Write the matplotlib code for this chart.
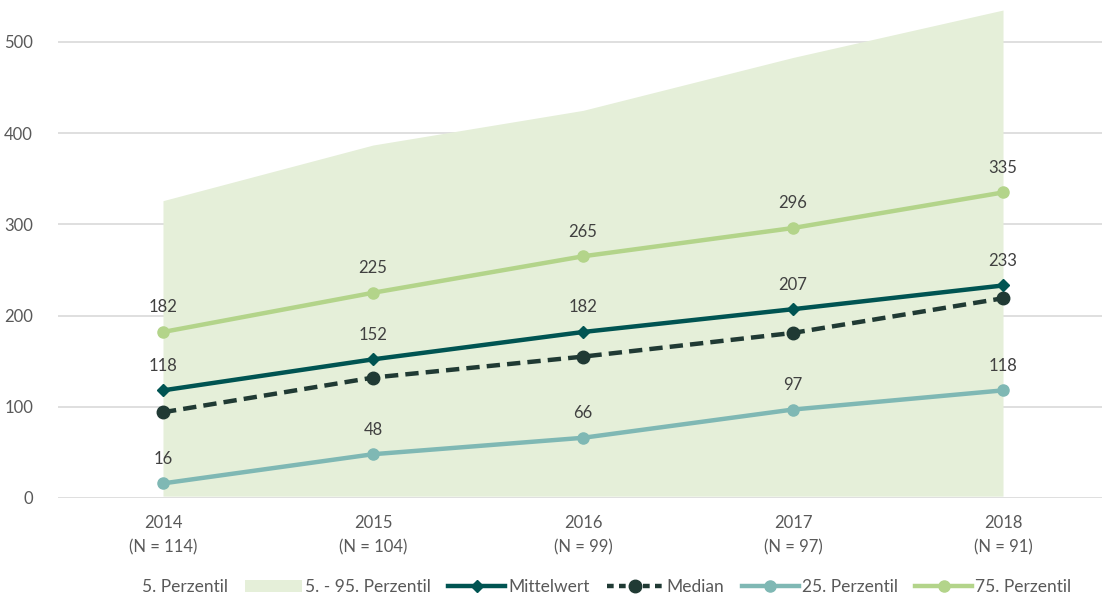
import matplotlib
matplotlib.use("Agg")
import matplotlib.pyplot as plt
from matplotlib.patches import Patch
from matplotlib.lines import Line2D

plt.rcParams['font.family'] = ['Lato', 'DejaVu Sans']

years = ["2014", "2015", "2016", "2017", "2018"]
n_counts = [114, 104, 99, 97, 91]
p05 = [2, 2, 2, 2, 2]
p95 = [326, 387, 425, 483, 535]
mean = [118, 152, 182, 207, 233]
median = [94, 132, 155, 181, 219]
p25 = [16, 48, 66, 97, 118]
p75 = [182, 225, 265, 296, 335]

c_band = "#E5EFD9"
c_mean = "#005452"
c_median = "#203A34"
c_p25 = "#7FB8B4"
c_p75 = "#B3D48A"
c_text = "#595959"
c_label = "#404040"
c_grid = "#D9D9D9"

fig = plt.figure(figsize=(11.02, 5.99), dpi=100)
ax = fig.add_axes([58 / 1102, 1 - 498 / 599, 1050 / 1102, 498 / 599])

x = list(range(len(years)))

ax.fill_between(x, p05, p95, color=c_band, lw=0, zorder=1)

ax.plot(x, p75, color=c_p75, lw=3.2, marker='o', ms=8, zorder=3)
ax.plot(x, p25, color=c_p25, lw=3.2, marker='o', ms=8, zorder=3)
ax.plot(x, median, color=c_median, lw=3.2, ls=(0, (3, 1.6)), marker='o', ms=9, zorder=4)
ax.plot(x, mean, color=c_mean, lw=3.2, marker='D', ms=6.5, zorder=5)

for series in (p75, mean, p25):
    for xi, v in zip(x, series):
        ax.annotate(str(v), (xi, v), xytext=(0, 12), textcoords='offset points',
                    ha='center', va='bottom', fontsize=12, color=c_label)

ax.set_xlim(-0.5, 4.5)
ax.set_ylim(0, 546)
ax.set_yticks([0, 100, 200, 300, 400, 500])
ax.set_xticks(x)
ax.set_xticklabels([f"{y}\n(N = {n})" for y, n in zip(years, n_counts)],
                   fontsize=12, color=c_text, linespacing=1.65)
ax.tick_params(axis='y', labelsize=12, labelcolor=c_text, length=0, pad=18)
ax.tick_params(axis='x', length=0, pad=12)
ax.grid(axis='y', color=c_grid, lw=1.2, zorder=0)
ax.set_axisbelow(True)
for s in ax.spines.values():
    s.set_visible(False)

handles = [
    Patch(facecolor='white', edgecolor='none'),
    Patch(facecolor=c_band, edgecolor='none'),
    Line2D([], [], color=c_mean, lw=3.2, marker='D', ms=6.5),
    Line2D([], [], color=c_median, lw=3.2, ls=(0, (1.5, 1.2)), marker='o', ms=9),
    Line2D([], [], color=c_p25, lw=3.2, marker='o', ms=8),
    Line2D([], [], color=c_p75, lw=3.2, marker='o', ms=8),
]
labels = ["5. Perzentil", "5. - 95. Perzentil", "Mittelwert", "Median",
          "25. Perzentil", "75. Perzentil"]
leg = fig.legend(handles, labels, loc='center', bbox_to_anchor=(0.523, 1 - 587 / 599),
                 ncol=6, frameon=False, fontsize=12.5, handlelength=3.3,
                 handletextpad=0.15, columnspacing=1.0, labelcolor=c_text)

fig.savefig("out.png", dpi=100)
